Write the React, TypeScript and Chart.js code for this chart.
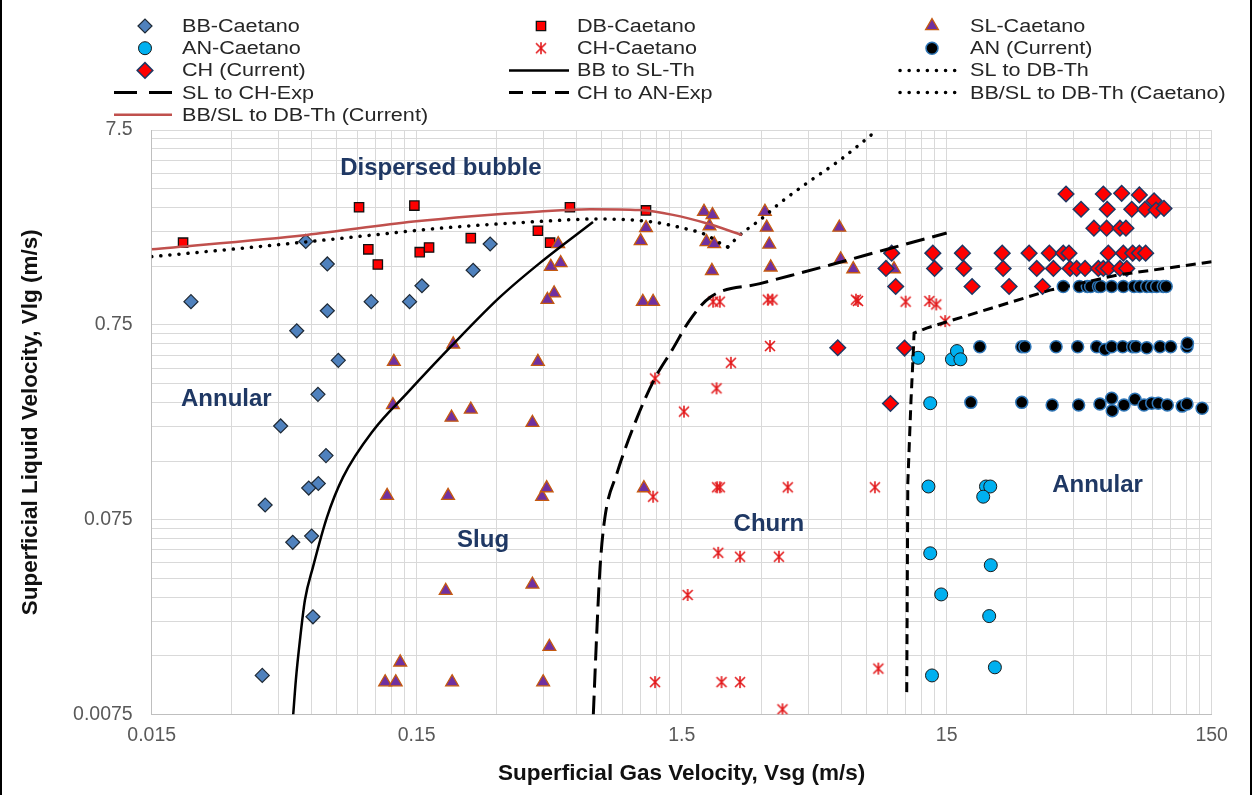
import React, { useEffect, useRef } from 'react';
import { Chart, registerables } from 'chart.js';
import { drawPoint } from 'chart.js/helpers';

Chart.register(...registerables);

const FONT = '"Liberation Sans", Arial, Helvetica, sans-serif';

// ---- flow-pattern data (Vsg, Vlg in m/s) ----
const bbCaetanoVsg = [0.0211, 0.0572, 0.069, 0.284, 0.245, 0.157, 0.101, 0.141, 0.069, 0.0529, 0.0759, 0.0636, 0.046, 0.0682, 0.0638, 0.0587, 0.0402, 0.0602, 0.0511, 0.0609, 0.0392];
const bbCaetanoVlg = [0.986, 2.01, 1.54, 1.95, 1.43, 1.19, 0.986, 0.986, 0.886, 0.699, 0.493, 0.33, 0.227, 0.16, 0.115, 0.109, 0.0892, 0.0618, 0.0574, 0.0238, 0.0119];

const dbCaetanoVsg = [0.0197, 0.0909, 0.147, 0.0985, 0.107, 0.154, 0.167, 0.24, 0.43, 0.478, 0.568, 1.1];
const dbCaetanoVlg = [1.98, 3.01, 3.07, 1.83, 1.53, 1.77, 1.87, 2.09, 2.28, 1.98, 3.01, 2.9];

const slCaetanoVsg = [0.123, 0.43, 0.206, 0.122, 0.203, 0.24, 0.41, 0.116, 0.197, 0.446, 0.464, 1.08, 0.193, 0.41, 0.475, 0.13, 0.114, 0.125, 0.204, 0.45, 0.513, 0.481, 0.524, 0.495, 0.467, 1.1, 1.05, 1.07, 1.17, 1.82, 1.96, 1.91, 1.86, 1.99, 1.95, 3.09, 3.14, 3.21, 3.25, 5.9, 5.97, 6.66, 9.49];
const slCaetanoVlg = [0.485, 0.485, 0.596, 0.291, 0.251, 0.276, 0.236, 0.0995, 0.0995, 0.0984, 0.109, 0.109, 0.0324, 0.0349, 0.0167, 0.0139, 0.011, 0.011, 0.011, 0.011, 1.95, 1.49, 1.56, 1.09, 1.01, 2.36, 2.02, 0.986, 0.986, 2.86, 2.75, 2.41, 2.0, 1.95, 1.42, 2.86, 2.37, 1.94, 1.48, 2.37, 1.63, 1.45, 1.45];

const anCaetanoVsg = [11.7, 15.7, 16.4, 16.9, 13.0, 12.8, 21.1, 21.9, 20.6, 13.0, 22.0, 14.3, 21.7, 22.8, 13.2];
const anCaetanoVlg = [0.508, 0.499, 0.55, 0.499, 0.297, 0.111, 0.111, 0.111, 0.0984, 0.0504, 0.0438, 0.031, 0.024, 0.0131, 0.0119];

const chCaetanoVsg = [1.97, 2.09, 3.17, 3.3, 3.23, 2.3, 6.82, 6.94, 10.5, 12.9, 13.7, 14.8, 1.19, 2.03, 1.53, 1.17, 2.04, 2.09, 3.77, 8.04, 2.06, 2.49, 3.49, 1.58, 1.19, 2.12, 2.49, 8.28, 3.6];
const chCaetanoVlg = [0.986, 0.986, 1.01, 1.01, 0.584, 0.479, 1.01, 0.994, 0.986, 0.994, 0.955, 0.784, 0.398, 0.354, 0.269, 0.0984, 0.11, 0.11, 0.11, 0.11, 0.0507, 0.0484, 0.0484, 0.0308, 0.011, 0.011, 0.011, 0.0129, 0.00797];

const anCurrentVsg = [
  41.3, 47.5, 50.9, 52.4, 56.1, 57.2, 62.9, 69.6, 76.4, 80.4, 85.3, 89.1, 93.0, 98.5, 101,
  20.0, 28.8, 29.6, 38.8, 46.8, 55.2, 59.4, 62.9, 69.2, 75.5, 77.7, 85.3, 95.7, 105, 121, 121.5,
  18.5, 28.8, 37.5, 47.2, 56.8, 62.9, 63.2, 70.0, 77.0, 83.3, 89.1, 94.3, 102, 116, 121, 138,
];
const anCurrentVlg = [
  1.18, 1.18, 1.18, 1.18, 1.18, 1.18, 1.18, 1.18, 1.18, 1.18, 1.18, 1.18, 1.18, 1.18, 1.18,
  0.579, 0.579, 0.579, 0.579, 0.579, 0.579, 0.561, 0.579, 0.579, 0.579, 0.579, 0.572, 0.579, 0.579, 0.579, 0.603,
  0.3, 0.3, 0.291, 0.291, 0.294, 0.315, 0.272, 0.291, 0.311, 0.291, 0.297, 0.297, 0.291, 0.287, 0.294, 0.28,
];

const chCurrentVsg = [
  42.3, 58.5, 68.6, 80.0, 90.9,
  48.2, 60.5, 74.9, 84.0, 92.5, 99.1,
  53.9, 60.2, 67.6, 71.2,
  9.3, 13.3, 17.2, 24.3, 30.7, 36.6, 41.3, 43.4, 61.1, 69.6, 75.5, 80.0, 84.5,
  8.85, 13.5, 17.4, 24.5, 32.8, 37.9, 43.8, 46.4, 49.9, 56.0, 58.5, 61.1, 67.6, 71.7,
  9.63, 18.7, 25.8, 34.5,
  5.82, 10.4, 9.2,
];
const chCurrentVlg = [
  3.52, 3.52, 3.55, 3.48, 3.25,
  2.94, 2.94, 2.94, 2.94, 2.91, 2.97,
  2.35, 2.35, 2.35, 2.35,
  1.75, 1.75, 1.75, 1.75, 1.75, 1.75, 1.75, 1.75, 1.75, 1.75, 1.75, 1.75, 1.75,
  1.46, 1.46, 1.46, 1.46, 1.46, 1.46, 1.46, 1.46, 1.46, 1.46, 1.46, 1.46, 1.46, 1.46,
  1.18, 1.18, 1.18, 1.18,
  0.572, 0.57, 0.296,
];

// ---- transition boundaries ----
const bbToSlVsg = [0.0513, 0.0525, 0.0544, 0.0568, 0.0609, 0.0688, 0.0791, 0.103, 0.138, 0.206, 0.309, 0.438, 0.694];
const bbToSlVlg = [0.0075, 0.0113, 0.0181, 0.029, 0.0428, 0.0773, 0.124, 0.216, 0.335, 0.597, 1.04, 1.56, 2.53];

const slToDbVsg = [2.24, 2.49, 2.96, 3.52, 4.46, 5.94, 8.2];
const slToDbVlg = [1.88, 2.17, 2.59, 3.16, 4.01, 5.26, 7.5];

const slToChVsg = [0.696, 0.717, 0.738, 0.77, 0.855, 1.02, 1.19, 1.38, 1.61, 1.92, 2.96, 5.44, 9.16, 15.0];
const slToChVlg = [0.0075, 0.0196, 0.0428, 0.0773, 0.13, 0.252, 0.4, 0.557, 0.794, 1.04, 1.22, 1.52, 1.85, 2.22];

const chToAnVsg = [10.6, 10.7, 11.0, 11.2, 11.3, 12.6, 36.8, 65.9, 150];
const chToAnVlg = [0.00977, 0.116, 0.308, 0.513, 0.681, 0.722, 1.13, 1.35, 1.58];

const bbSlDbCaetanoVsg = [0.015, 0.0209, 0.0577, 0.103, 0.184, 0.426, 0.717, 1.14, 1.52, 1.86, 2.09, 2.24];
const bbSlDbCaetanoVlg = [1.68, 1.75, 2.0, 2.17, 2.35, 2.54, 2.62, 2.54, 2.35, 2.17, 1.97, 1.88];

const bbSlDbCurrentVsg = [0.015, 0.0577, 0.146, 0.438, 0.676, 1.04, 1.39, 1.86, 2.53];
const bbSlDbCurrentVlg = [1.83, 2.17, 2.54, 2.86, 2.94, 2.91, 2.75, 2.49, 2.17];

// ---- region names ----
const regionNames = ['Dispersed bubble', 'Annular', 'Slug', 'Churn', 'Annular'];
const regionVsg = [0.185, 0.0287, 0.267, 3.2, 55.6];
const regionVlg = [4.79, 0.312, 0.0589, 0.0712, 0.112];

// ---- axes ----
const xMajorTicks = [0.015, 0.15, 1.5, 15, 150];
const xTickLabels = ['0.015', '0.15', '1.5', '15', '150'];
const yMajorTicks = [0.0075, 0.075, 0.75, 7.5];
const yTickLabels = ['0.0075', '0.075', '0.75', '7.5'];

const pts = (xs: number[], ys: number[]) => xs.map((x, i) => ({ x, y: ys[i] }));

const gridValues = (majors: number[]) => {
  const out: number[] = [];
  for (let d = 0; d < majors.length - 1; d++) {
    for (let k = 1; k <= 9; k++) out.push(majors[d] * k);
  }
  out.push(majors[majors.length - 1]);
  return out;
};

const labelFor = (majors: number[], labels: string[]) => (value: number) => {
  const i = majors.findIndex((m) => Math.abs(Math.log10(value / m)) < 1e-6);
  return i >= 0 ? labels[i] : '';
};

function makeAsterisk(color: string) {
  const c = document.createElement('canvas');
  c.width = 16;
  c.height = 16;
  const g = c.getContext('2d')!;
  g.strokeStyle = color;
  g.lineWidth = 1.6;
  g.lineCap = 'butt';
  g.beginPath();
  g.moveTo(3, 3); g.lineTo(13, 13);
  g.moveTo(13, 3); g.lineTo(3, 13);
  g.moveTo(8, 2); g.lineTo(8, 14);
  g.stroke();
  return c;
}

const legendCols = [
  { x0: 114, x1: 172, text: 182 },
  { x0: 509, x1: 569, text: 577 },
  { x0: 900, x1: 960, text: 970 },
];
const legendTop = 26;
const legendStep = 22.2;

const overlayPlugin = {
  id: 'overlay',
  beforeDraw(chart: any) {
    const { ctx } = chart;
    ctx.save();
    ctx.fillStyle = '#ffffff';
    ctx.fillRect(0, 0, chart.width, chart.height);
    ctx.restore();
  },
  afterDatasetsDraw(chart: any) {
    const { ctx, scales } = chart;
    ctx.save();
    ctx.fillStyle = '#1F3864';
    ctx.font = `bold 24px ${FONT}`;
    ctx.textAlign = 'center';
    ctx.textBaseline = 'middle';
    regionNames.forEach((name, i) => {
      ctx.fillText(name, scales.x.getPixelForValue(regionVsg[i]), scales.y.getPixelForValue(regionVlg[i]));
    });
    ctx.restore();
  },
  afterDraw(chart: any) {
    const { ctx } = chart;
    ctx.save();
    chart.data.datasets.forEach((ds: any, i: number) => {
      const col = legendCols[i % 3];
      const y = legendTop + Math.floor(i / 3) * legendStep;
      if (ds.showLine) {
        ctx.save();
        ctx.strokeStyle = ds.borderColor;
        ctx.lineWidth = ds.borderWidth;
        ctx.lineCap = ds.borderCapStyle || 'butt';
        ctx.setLineDash(ds.legendDash || ds.borderDash || []);
        ctx.beginPath();
        ctx.moveTo(col.x0, y);
        ctx.lineTo(col.x1, y);
        ctx.stroke();
        ctx.restore();
      } else {
        ctx.save();
        ctx.fillStyle = ds.pointBackgroundColor;
        ctx.strokeStyle = ds.pointBorderColor;
        ctx.lineWidth = ds.pointBorderWidth;
        drawPoint(ctx, { pointStyle: ds.pointStyle, radius: ds.pointRadius, borderWidth: ds.pointBorderWidth, rotation: 0 } as any, (col.x0 + col.x1) / 2 + 2, y);
        ctx.restore();
      }
      ctx.save();
      ctx.fillStyle = '#262626';
      ctx.font = `18px ${FONT}`;
      ctx.textBaseline = 'middle';
      ctx.translate(col.text, y + 1);
      ctx.scale(1.2, 1);
      ctx.fillText(ds.label, 0, 0);
      ctx.restore();
    });
    // frame edges
    ctx.fillStyle = '#000000';
    ctx.fillRect(0, 0, 2, chart.height);
    ctx.fillRect(1250, 0, 2, chart.height);
    ctx.restore();
  },
};

export default function App() {
  const ref = useRef<HTMLCanvasElement>(null);

  useEffect(() => {
    const canvas = ref.current;
    if (!canvas) return;
    const asterisk = makeAsterisk('#E31A1C');

    const markers = (label: string, xs: number[], ys: number[], style: any, radius: number, fill: string, edge: string, edgeWidth: number) => ({
      label,
      data: pts(xs, ys),
      showLine: false,
      pointStyle: style,
      pointRadius: radius,
      pointHoverRadius: radius,
      pointBackgroundColor: fill,
      pointBorderColor: edge,
      pointBorderWidth: edgeWidth,
      backgroundColor: fill,
      borderColor: edge,
    });

    const curve = (label: string, xs: number[], ys: number[], color: string, width: number, dash: number[], extra: any = {}) => ({
      label,
      data: pts(xs, ys),
      showLine: true,
      pointRadius: 0,
      pointHoverRadius: 0,
      borderColor: color,
      backgroundColor: color,
      borderWidth: width,
      borderDash: dash,
      fill: false,
      ...extra,
    });

    const dotted = { borderCapStyle: 'round', cubicInterpolationMode: 'monotone' };

    const datasets: any[] = [
      markers('BB-Caetano', bbCaetanoVsg, bbCaetanoVlg, 'rectRot', 7, '#4F81BD', '#1F2A36', 1.2),
      markers('DB-Caetano', dbCaetanoVsg, dbCaetanoVlg, 'rect', 6.6, '#FF0000', '#111111', 1.3),
      markers('SL-Caetano', slCaetanoVsg, slCaetanoVlg, 'triangle', 7.4, '#7030A0', '#C55A11', 1.3),
      markers('AN-Caetano', anCaetanoVsg, anCaetanoVlg, 'circle', 6.5, '#00B0F0', '#1A1A1A', 1),
      markers('CH-Caetano', chCaetanoVsg, chCaetanoVlg, asterisk, 7, '#E31A1C', '#E31A1C', 1),
      markers('AN (Current)', anCurrentVsg, anCurrentVlg, 'circle', 6, '#000000', '#2E75B6', 1.5),
      markers('CH (Current)', chCurrentVsg, chCurrentVlg, 'rectRot', 7.8, '#FF0000', '#1F3864', 1.5),
      curve('BB to SL-Th', bbToSlVsg, bbToSlVlg, '#000000', 2.5, [], { cubicInterpolationMode: 'monotone' }),
      curve('SL to DB-Th', slToDbVsg, slToDbVlg, '#000000', 3.5, [0.1, 9], dotted),
      curve('SL to CH-Exp', slToChVsg, slToChVlg, '#000000', 3, [19, 8], { cubicInterpolationMode: 'monotone', legendDash: [23, 12] }),
      curve('CH to AN-Exp', chToAnVsg, chToAnVlg, '#000000', 3, [10, 6], { legendDash: [14, 9] }),
      curve('BB/SL to DB-Th (Caetano)', bbSlDbCaetanoVsg, bbSlDbCaetanoVlg, '#000000', 3.5, [0.1, 9], dotted),
      curve('BB/SL to DB-Th (Current)', bbSlDbCurrentVsg, bbSlDbCurrentVlg, '#C0504D', 2.5, [], { cubicInterpolationMode: 'monotone' }),
    ];
    datasets.forEach((ds, i) => { ds.order = -i; });

    const xGrid = gridValues(xMajorTicks);
    const yGrid = gridValues(yMajorTicks);

    const chart = new Chart(canvas, {
      type: 'scatter',
      data: { datasets },
      plugins: [overlayPlugin],
      options: {
        animation: false,
        responsive: false,
        maintainAspectRatio: false,
        events: [],
        layout: { padding: { top: 130, right: 45.3, left: 0, bottom: 0 } },
        plugins: { legend: { display: false }, tooltip: { enabled: false } },
        scales: {
          x: {
            type: 'logarithmic',
            min: xMajorTicks[0],
            max: xMajorTicks[xMajorTicks.length - 1],
            afterBuildTicks: (s: any) => { s.ticks = xGrid.map((v) => ({ value: v })); },
            afterFit: (s: any) => { s.height = 80.5; },
            grid: { color: '#D9D9D9', lineWidth: 1, drawTicks: false },
            border: { color: '#BFBFBF', width: 1 },
            ticks: {
              autoSkip: false,
              maxRotation: 0,
              minRotation: 0,
              padding: 9,
              color: '#595959',
              font: { family: FONT, size: 19.5 },
              callback: labelFor(xMajorTicks, xTickLabels) as any,
            },
            title: {
              display: true,
              text: 'Superficial Gas Velocity, Vsg (m/s)',
              color: '#111111',
              font: { family: FONT, size: 22.5, weight: 'bold' },
              padding: { top: 0, bottom: 8 },
            },
          },
          y: {
            type: 'logarithmic',
            min: yMajorTicks[0],
            max: yMajorTicks[yMajorTicks.length - 1],
            afterBuildTicks: (s: any) => { s.ticks = yGrid.map((v) => ({ value: v })); },
            afterFit: (s: any) => { s.width = 151.7; },
            grid: { color: '#D9D9D9', lineWidth: 1, drawTicks: false },
            border: { color: '#BFBFBF', width: 1 },
            ticks: {
              autoSkip: false,
              padding: 19,
              color: '#595959',
              font: { family: FONT, size: 19.5 },
              callback: labelFor(yMajorTicks, yTickLabels) as any,
            },
            title: {
              display: true,
              text: 'Superficial Liquid Velocity, Vlg (m/s)',
              color: '#111111',
              font: { family: FONT, size: 22.5, weight: 'bold' },
              padding: { top: 17, bottom: 0 },
            },
          },
        },
      } as any,
    });

    return () => chart.destroy();
  }, []);

  return (
    <div style={{ position: 'fixed', left: 0, top: 0, width: 1257, height: 795, background: '#ffffff' }}>
      <canvas ref={ref} width={1257} height={795} style={{ display: 'block', width: 1257, height: 795 }} />
    </div>
  );
}
